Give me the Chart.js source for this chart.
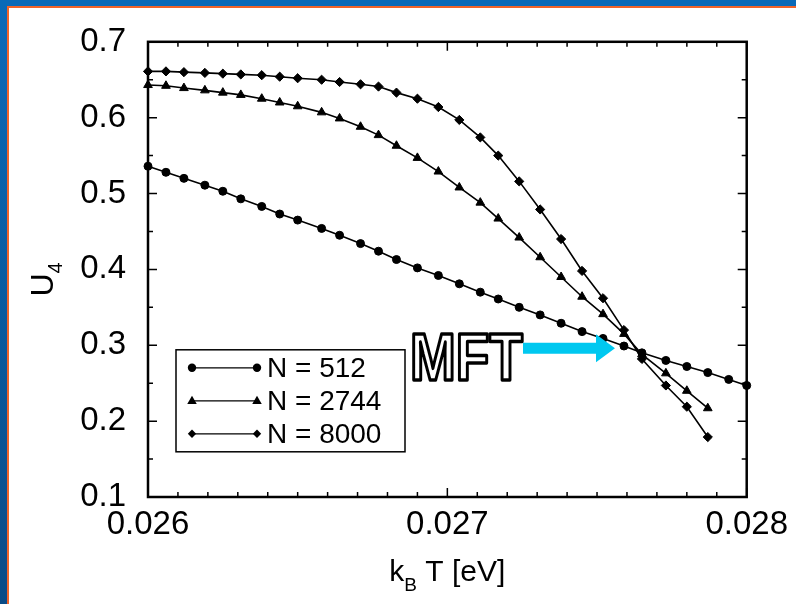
<!DOCTYPE html>
<html>
<head>
<meta charset="utf-8">
<script src="https://cdn.jsdelivr.net/npm/chart.js@4.4.1/dist/chart.umd.min.js"></script>
<style>
  html, body { margin: 0; padding: 0; background: #fff; }
  #wrap { width: 796px; height: 604px; }
</style>
</head>
<body>
<div id="wrap"><canvas id="chartU4" width="796" height="604"></canvas></div>
<script>
// temperaturas k_B T [eV]
const temps = [0.02600, 0.02606, 0.02612, 0.02619, 0.02625, 0.02631, 0.02638, 0.02644,
               0.02650, 0.02658, 0.02664, 0.02671, 0.02677, 0.02683, 0.02690, 0.02697,
               0.02704, 0.02711, 0.02717, 0.02724, 0.02731, 0.02738, 0.02745, 0.02752,
               0.02759, 0.02765, 0.02773, 0.02780, 0.02787, 0.02794, 0.02800];

// cumulante de Binder U4 para cada tamaño
const u512 = [0.536, 0.528, 0.520, 0.511, 0.503, 0.493, 0.483, 0.473, 0.465, 0.454,
              0.445, 0.434, 0.424, 0.413, 0.402, 0.392, 0.381, 0.370, 0.361, 0.350,
              0.340, 0.329, 0.318, 0.309, 0.299, 0.290, 0.280, 0.272, 0.264, 0.255, 0.247];
const u2744 = [0.643, 0.642, 0.639, 0.636, 0.633, 0.630, 0.625, 0.620, 0.615, 0.607,
               0.599, 0.588, 0.577, 0.563, 0.547, 0.529, 0.508, 0.488, 0.467, 0.442,
               0.416, 0.390, 0.364, 0.341, 0.315, 0.288, 0.263, 0.240, 0.217];
const u8000 = [0.661, 0.661, 0.660, 0.659, 0.658, 0.657, 0.656, 0.654, 0.652, 0.650,
               0.647, 0.644, 0.641, 0.633, 0.625, 0.614, 0.597, 0.574, 0.550, 0.516,
               0.479, 0.440, 0.398, 0.362, 0.320, 0.282, 0.247, 0.219, 0.179];

const seriesLabels = ['N = 512', 'N = 2744', 'N = 8000'];
const seriesStyles = ['circle', 'triangle', 'rectRot'];
const xTicks = [0.026, 0.027, 0.028];
const yTicks = [0.1, 0.2, 0.3, 0.4, 0.5, 0.6, 0.7];

const FONT = '"Liberation Sans", Arial, Helvetica, sans-serif';

function pares(vals) {
    return vals.map((v, i) => ({ x: temps[i], y: v }));
}

// marcador propio para la leyenda
function marcador(ctx, estilo, x, y, r) {
    ctx.beginPath();
    if (estilo === 'circle') {
        ctx.arc(x, y, r, 0, Math.PI * 2);
    } else if (estilo === 'triangle') {
        ctx.moveTo(x, y - r);
        ctx.lineTo(x + r * 0.95, y + r * 0.65);
        ctx.lineTo(x - r * 0.95, y + r * 0.65);
        ctx.closePath();
    } else {
        ctx.moveTo(x, y - r);
        ctx.lineTo(x + r, y);
        ctx.lineTo(x, y + r);
        ctx.lineTo(x - r, y);
        ctx.closePath();
    }
    ctx.fill();
}

const marco = {
    id: 'marco',
    beforeDraw(chart) {
        const ctx = chart.ctx, w = chart.width, h = chart.height;
        ctx.save();
        ctx.fillStyle = '#fff';
        ctx.fillRect(0, 0, w, h);
        const g = ctx.createLinearGradient(0, 0, 0, h);
        g.addColorStop(0, '#0a6ab8');
        g.addColorStop(1, '#0b4b86');
        ctx.fillStyle = g;
        ctx.fillRect(0, 0, 7, h);
        ctx.fillStyle = '#0a6ab8';
        ctx.fillRect(0, 0, w, 6);
        ctx.fillStyle = '#f0642a';
        ctx.fillRect(7, 6, w - 7, 2);
        ctx.fillRect(7, 6, 2, h - 6);
        ctx.restore();
    },
    beforeDatasetsDraw(chart) {
        const { ctx, chartArea: a, scales: { x, y } } = chart;
        ctx.save();
        ctx.strokeStyle = '#000';
        ctx.lineWidth = 2.5;
        ctx.strokeRect(a.left, a.top, a.right - a.left, a.bottom - a.top);
        // marcas hacia dentro en los cuatro lados
        ctx.lineWidth = 1.5;
        ctx.beginPath();
        for (let i = 0; i <= 20; i++) {
            const px = x.getPixelForValue(0.026 + i * 0.0001);
            const len = i % 10 === 0 ? 9 : 5;
            ctx.moveTo(px, a.bottom); ctx.lineTo(px, a.bottom - len);
            ctx.moveTo(px, a.top); ctx.lineTo(px, a.top + len);
        }
        for (let i = 0; i <= 12; i++) {
            const py = y.getPixelForValue(0.1 + i * 0.05);
            const len = i % 2 === 0 ? 9 : 5;
            ctx.moveTo(a.left, py); ctx.lineTo(a.left + len, py);
            ctx.moveTo(a.right, py); ctx.lineTo(a.right - len, py);
        }
        ctx.stroke();
        ctx.restore();
    },
    afterDatasetsDraw(chart) {
        const { ctx, chartArea: a, scales: { x, y } } = chart;
        ctx.save();

        // leyenda
        const lx = a.left + 28, ly = a.top + 308, lw = 229, lh = 102;
        ctx.fillStyle = '#fff';
        ctx.fillRect(lx, ly, lw, lh);
        ctx.strokeStyle = '#000';
        ctx.lineWidth = 1.5;
        ctx.strokeRect(lx, ly, lw, lh);
        chart.data.datasets.forEach((ds, i) => {
            const ry = ly + 18 + i * 33;
            ctx.lineWidth = 1.2;
            ctx.beginPath();
            ctx.moveTo(lx + 16, ry);
            ctx.lineTo(lx + 81, ry);
            ctx.stroke();
            ctx.fillStyle = '#000';
            const r = i === 0 ? 4.2 : (i === 1 ? 5 : 4.2);
            marcador(ctx, seriesStyles[i], lx + 16, ry, r);
            marcador(ctx, seriesStyles[i], lx + 81, ry, r);
            ctx.font = '28px ' + FONT;
            ctx.textAlign = 'left';
            ctx.textBaseline = 'middle';
            ctx.fillText(ds.label, lx + 91, ry + 1);
        });

        // flecha MFT hacia el cruce de las curvas
        const tipX = x.getPixelForValue(0.02756);
        const tipY = y.getPixelForValue(0.296);
        ctx.fillStyle = '#00c8f0';
        ctx.beginPath();
        ctx.moveTo(tipX - 92, tipY - 5.5);
        ctx.lineTo(tipX - 19, tipY - 5.5);
        ctx.lineTo(tipX - 19, tipY - 14);
        ctx.lineTo(tipX, tipY);
        ctx.lineTo(tipX - 19, tipY + 14);
        ctx.lineTo(tipX - 19, tipY + 5.5);
        ctx.lineTo(tipX - 92, tipY + 5.5);
        ctx.closePath();
        ctx.fill();

        ctx.save();
        ctx.translate(tipX - 205, tipY + 32);
        ctx.scale(0.82, 1);
        ctx.font = 'bold 67px ' + FONT;
        ctx.textAlign = 'left';
        ctx.textBaseline = 'alphabetic';
        ctx.lineJoin = 'round';
        ctx.fillStyle = '#fff';
        ctx.fillText('MFT', 0, 0);
        ctx.lineWidth = 3.6;
        ctx.strokeStyle = '#000';
        ctx.strokeText('MFT', 0, 0);
        ctx.restore();

        ctx.restore();
    },
    afterDraw(chart) {
        const { ctx, chartArea: a } = chart;
        ctx.save();
        ctx.fillStyle = '#000';
        ctx.textAlign = 'left';
        ctx.textBaseline = 'alphabetic';

        // título eje x: k_B T [eV]
        const big = '30px ' + FONT, small = '19px ' + FONT;
        ctx.font = big;
        const wk = ctx.measureText('k').width;
        const wr = ctx.measureText(' T [eV]').width;
        ctx.font = small;
        const wb = ctx.measureText('B').width;
        let xx = (a.left + a.right) / 2 - (wk + wb + wr) / 2;
        const by = a.bottom + 84;
        ctx.font = big;
        ctx.fillText('k', xx, by);
        xx += wk;
        ctx.font = small;
        ctx.fillText('B', xx, by + 10);
        xx += wb;
        ctx.font = big;
        ctx.fillText(' T [eV]', xx, by);

        // título eje y: U_4
        ctx.translate(53, (a.top + a.bottom) / 2 + 10);
        ctx.rotate(-Math.PI / 2);
        ctx.font = '32px ' + FONT;
        const wu = ctx.measureText('U').width;
        ctx.font = '20px ' + FONT;
        const w4 = ctx.measureText('4').width;
        const x0 = -(wu + w4) / 2;
        ctx.font = '32px ' + FONT;
        ctx.fillText('U', x0, 0);
        ctx.font = '20px ' + FONT;
        ctx.fillText('4', x0 + wu, 9);
        ctx.restore();
    }
};

try {
    const chartElement = document.getElementById('chartU4');
    const datasets = [u512, u2744, u8000].map((vals, i) => ({
        label: seriesLabels[i],
        data: pares(vals),
        showLine: true,
        borderColor: '#000',
        borderWidth: 1.6,
        backgroundColor: '#000',
        pointStyle: seriesStyles[i],
        pointRadius: i === 0 ? 4 : (i === 1 ? 5 : 4.6),
        pointBorderWidth: 1,
        pointBackgroundColor: '#000',
        pointBorderColor: '#000',
        tension: 0,
        clip: false
    }));

    new Chart(chartElement, {
        type: 'scatter',
        data: { datasets: datasets },
        options: {
            responsive: false,
            animation: false,
            devicePixelRatio: 1,
            layout: { padding: { left: 0, top: 41, right: 49, bottom: 47 } },
            plugins: {
                legend: { display: false },
                tooltip: { enabled: false }
            },
            scales: {
                x: {
                    type: 'linear',
                    min: 0.026,
                    max: 0.028,
                    afterBuildTicks: s => { s.ticks = xTicks.map(v => ({ value: v })); },
                    afterFit: s => { s.height = 60; },
                    grid: { display: false, drawTicks: false },
                    border: { display: false },
                    ticks: {
                        autoSkip: false,
                        maxRotation: 0,
                        padding: 8,
                        color: '#000',
                        font: { family: FONT, size: 33 },
                        callback: v => Number(v).toFixed(3)
                    }
                },
                y: {
                    type: 'linear',
                    min: 0.1,
                    max: 0.7,
                    afterBuildTicks: s => { s.ticks = yTicks.map(v => ({ value: v })); },
                    afterFit: s => { s.width = 148; },
                    grid: { display: false, drawTicks: false },
                    border: { display: false },
                    ticks: {
                        padding: 22,
                        color: '#000',
                        font: { family: FONT, size: 33 },
                        callback: v => Number(v).toFixed(1)
                    }
                }
            }
        },
        plugins: [marco]
    });
} catch (error) {
    console.error('Error al crear la gráfica de U4:', error);
}
</script>
</body>
</html>
